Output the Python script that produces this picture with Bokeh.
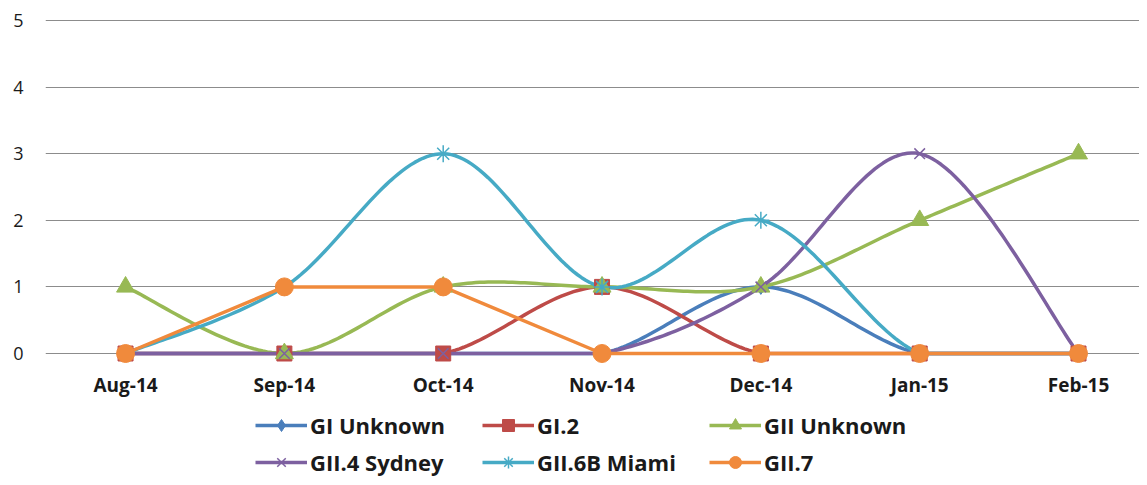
import numpy as np
from bokeh.plotting import figure
from bokeh.layouts import column
from bokeh.models import Range1d, FixedTicker, Legend, LegendItem, ColumnDataSource
from bokeh.embed import file_html
from bokeh.resources import INLINE

months = ["Aug-14", "Sep-14", "Oct-14", "Nov-14", "Dec-14", "Jan-15", "Feb-15"]
series_names = ["GI Unknown", "GI.2", "GII Unknown", "GII.4 Sydney", "GII.6B Miami", "GII.7"]
gi_unknown = [0, 0, 0, 0, 1, 0, 0]
gi_2 = [0, 0, 0, 1, 0, 0, 0]
gii_unknown = [1, 0, 1, 1, 1, 2, 3]
gii4_sydney = [0, 0, 0, 0, 1, 3, 0]
gii6b_miami = [0, 1, 3, 1, 2, 0, 0]
gii_7 = [0, 1, 1, 0, 0, 0, 0]
y_ticks = [0, 1, 2, 3, 4, 5]

values = [gi_unknown, gi_2, gii_unknown, gii4_sydney, gii6b_miami, gii_7]
colors = ["#4A7EBB", "#BE4B48", "#98B954", "#7D60A0", "#46AAC5", "#F08A3C"]
markers = ["diamond", "square", "triangle", "x", "asterisk", "circle"]
msizes = [15, 15, 18, 15, 17, 18]
smoothed = [True, True, True, True, True, False]


def smooth(xs, ys, n=40):
    P = np.column_stack([xs, ys]).astype(float)
    out = []
    m = len(P)
    for i in range(m - 1):
        p0 = P[i - 1] if i > 0 else P[i]
        p1 = P[i]
        p2 = P[i + 1]
        p3 = P[i + 2] if i + 2 < m else P[i + 1]
        c1 = p1 + (p2 - p0) / 6.0
        c2 = p2 - (p3 - p1) / 6.0
        t = np.linspace(0, 1, n)[:, None]
        seg = ((1 - t) ** 3) * p1 + 3 * ((1 - t) ** 2) * t * c1 + 3 * (1 - t) * t ** 2 * c2 + t ** 3 * p2
        if i > 0:
            seg = seg[1:]
        out.append(seg)
    arr = np.vstack(out)
    # counts cannot go below zero
    return arr[:, 0], np.maximum(arr[:, 1], 0)


x_idx = list(range(len(months)))

p = figure(width=1139, height=400, output_backend="svg", toolbar_location=None,
           x_range=Range1d(-0.504, 6.384), y_range=Range1d(-0.15, 5.12),
           min_border_left=45, min_border_right=0, min_border_top=12, min_border_bottom=35)
p.outline_line_color = None
p.background_fill_color = "white"
p.border_fill_color = "white"

p.xgrid.grid_line_color = None
p.ygrid.grid_line_color = "#8C8C8C"
p.ygrid.grid_line_width = 1
p.yaxis.ticker = FixedTicker(ticks=y_ticks)
p.xaxis.ticker = FixedTicker(ticks=x_idx)
p.xaxis.major_label_overrides = {i: m for i, m in enumerate(months)}

for ax in (p.xaxis, p.yaxis):
    ax.axis_line_color = None
    ax.major_tick_line_color = None
    ax.minor_tick_line_color = None
    ax.major_tick_out = 0
    ax.major_tick_in = 0
    ax.major_label_text_color = "#1a1a1a"
    ax.major_label_text_font = "Open Sans"

p.yaxis.major_label_text_font_size = "18px"
p.yaxis.major_label_standoff = 22
p.xaxis.major_label_text_font_size = "19px"
p.xaxis.major_label_text_font_style = "bold"
p.xaxis.major_label_standoff = 8

# lines first
for vals, c, sm in zip(values, colors, smoothed):
    if sm:
        sx, sy = smooth(x_idx, vals)
    else:
        sx, sy = x_idx, vals
    p.line(sx, sy, line_color=c, line_width=3.5, line_join="round")

# markers
for vals, c, mk, ms in zip(values, colors, markers, msizes):
    src = ColumnDataSource(dict(x=x_idx, y=vals))
    lw = 1.5 if mk in ("x", "asterisk") else 1
    p.scatter("x", "y", source=src, marker=mk, size=ms, fill_color=c, line_color=c, line_width=lw)

# legend figure
p2 = figure(width=1139, height=77, output_backend="svg", toolbar_location=None,
            x_range=Range1d(0, 1), y_range=Range1d(0, 1),
            min_border_left=0, min_border_right=0, min_border_top=0, min_border_bottom=0)
p2.outline_line_color = None
p2.axis.visible = False
p2.grid.visible = False

items = []
for name, c, mk, ms in zip(series_names, colors, markers, msizes):
    lw = 1.5 if mk in ("x", "asterisk") else 1
    lr = p2.line(x=[-5, -4], y=[-5, -4], line_color=c, line_width=3.5)
    sr = p2.scatter(x=[-5], y=[-5], marker=mk, size=ms, fill_color=c, line_color=c, line_width=lw)
    items.append(LegendItem(label=name, renderers=[lr, sr]))

legend = Legend(items=items, orientation="horizontal", ncols=3, location=(210, 0),
                glyph_width=52, glyph_height=30, label_height=30, label_width=165,
                label_standoff=3, spacing=7, padding=0, margin=0,
                border_line_color=None, background_fill_alpha=0,
                label_text_font="Open Sans", label_text_font_style="bold",
                label_text_font_size="22px", label_text_color="#1a1a1a")
p2.add_layout(legend, "center")

layout = column(p, p2, spacing=0)
open("out.html", "w").write(file_html(layout, INLINE))
